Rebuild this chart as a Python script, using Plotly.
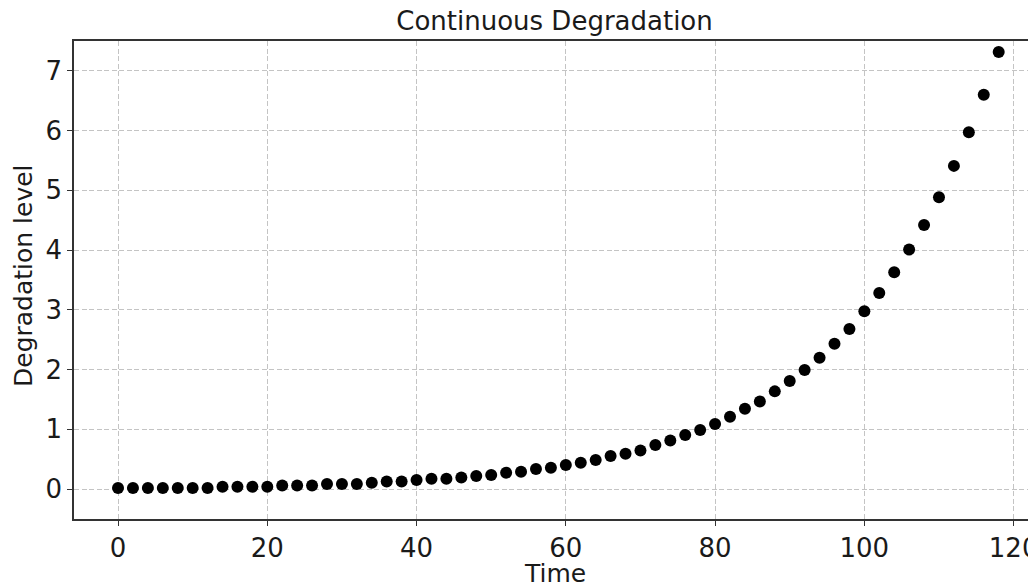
import plotly.graph_objects as go

time = list(range(0, 120, 2))
degradation = [
    0.017, 0.017, 0.017, 0.017, 0.017, 0.017, 0.017,
    0.039, 0.039, 0.039, 0.039,
    0.061, 0.061, 0.061,
    0.084, 0.084, 0.084,
    0.106, 0.128, 0.128, 0.151, 0.173, 0.173, 0.195, 0.218, 0.235, 0.274,
    0.290, 0.335, 0.357, 0.402, 0.441, 0.486, 0.553, 0.592, 0.648, 0.737,
    0.815, 0.905, 0.988, 1.089, 1.212, 1.346, 1.468, 1.636, 1.809, 1.993,
    2.200, 2.434, 2.680, 2.976, 3.283, 3.629, 4.009, 4.422, 4.886, 5.410,
    5.974, 6.600, 7.314,
]
x_ticks = [0, 20, 40, 60, 80, 100, 120]
y_ticks = [0, 1, 2, 3, 4, 5, 6, 7]

FONT = "DejaVu Sans"
TXT = "#1a1a1a"

# page body has an 8px default margin, so the figure is sized to fit the window
W, H = 1028, 578
L, R, T, B = 66, 0, 33, 67
PW, PH = W - L - R, H - T - B

fig = go.Figure()
fig.add_trace(go.Scatter(
    x=time, y=degradation, mode="markers",
    marker=dict(color="black", size=12, line=dict(width=0)),
    showlegend=False,
))

axis_common = dict(
    showgrid=True, gridcolor="#c4c4c4", griddash="5px,2.5px", gridwidth=1,
    zeroline=False, showline=True, linecolor="#333333", linewidth=1.5,
    ticks="outside", ticklen=5, tickwidth=1.2, tickcolor="#333333",
    tickfont=dict(family=FONT, size=26, color=TXT),
    automargin=False, ticklabeloverflow="allow",
)

fig.update_layout(
    width=W, height=H,
    paper_bgcolor="white", plot_bgcolor="white",
    margin=dict(l=L, r=R, t=T, b=B, autoexpand=False),
    font=dict(family=FONT, color=TXT),
    title=dict(text="Continuous Degradation", x=(550 - L) / 969, xref="paper",
               xanchor="center", y=1 - 13 / H, yref="container", yanchor="middle",
               font=dict(family=FONT, size=26, color=TXT)),
    xaxis=dict(**axis_common, range=[-5.9, 123.0], tickvals=x_ticks, mirror=True),
    yaxis=dict(**axis_common, range=[-0.5, 7.5], tickvals=y_ticks, mirror=False),
    annotations=[
        dict(text="Time", xref="paper", yref="paper",
             x=(550 - L) / 969, y=-(565 - (T + PH)) / PH,
             xanchor="center", yanchor="middle", showarrow=False,
             font=dict(family=FONT, size=25, color=TXT)),
        dict(text="Degradation level", xref="paper", yref="paper",
             x=-(L - 15) / PW, y=0.5 + 4 / PH, textangle=-90,
             xanchor="center", yanchor="middle", showarrow=False,
             font=dict(family=FONT, size=25, color=TXT)),
    ],
)

fig.write_html("out.html")
